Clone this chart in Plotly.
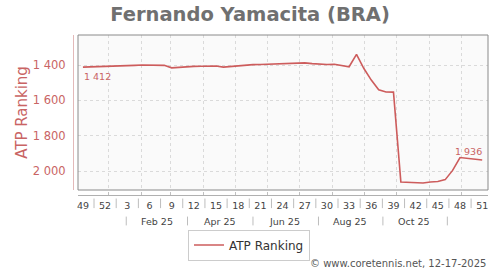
import plotly.graph_objects as go
import pandas as pd

# ---------------- data ----------------
title_text = "Fernando Yamacita (BRA)"
series_name = "ATP Ranking"
week_dates = pd.date_range("2024-12-08", periods=55, freq="7D")
rankings = [
    1412, 1411, 1411, 1410, 1409, 1406, 1404, 1402, 1400, 1400,
    1401, 1402, 1416, 1412, 1410, 1408, 1407, 1406, 1406, 1412,
    1408, 1403, 1399, 1398, 1397, 1396, 1395, 1394, 1393, 1392,
    1388, 1392, 1395, 1397, 1396, 1402, 1410, 1340, 1420, 1485,
    1540, 1552, 1553, 2060, 2062, 2064, 2066, 2060, 2058, 2047,
    1995, 1922, 1926, 1931, 1936,
]
week_tick_labels = ["49", "52", "3", "6", "9", "12", "15", "18", "21", "24",
                    "27", "30", "33", "36", "39", "42", "45", "48", "51"]
month_grid = pd.date_range("2025-01-01", "2025-12-01", freq="MS")
month_labels = ["Feb 25", "Apr 25", "Jun 25", "Aug 25", "Oct 25"]
month_label_dates = pd.to_datetime(["2025-02-16", "2025-04-17", "2025-06-17",
                                    "2025-08-18", "2025-10-17"])
month_sep_dates = pd.to_datetime(["2025-01-18", "2025-03-17", "2025-05-18",
                                  "2025-07-19", "2025-09-18", "2025-11-18"])
y_ticks = [1400, 1600, 1800, 2000]
footer = "© www.coretennis.net, 12-17-2025"

# ---------------- style ----------------
RED = "#cd5c5c"
RED_TXT = "#c96464"
FONT = "DejaVu Sans"
GRID = "#dadada"
PLOT_BG = "#fafafa"

week_tick_dates = week_dates[::3]
week_seps = [week_tick_dates[k] + (week_tick_dates[k + 1] - week_tick_dates[k]) / 2
             for k in range(len(week_tick_dates) - 1)]


def fmt(v):
    return f"{v:,}".replace(",", " ")


fig = go.Figure()
fig.add_trace(go.Scatter(
    x=week_dates, y=rankings, mode="lines", name=series_name,
    line=dict(color=RED, width=1.6), hoverinfo="skip",
))

shapes = [dict(type="rect", xref="x domain", yref="y domain", x0=0, x1=1, y0=0, y1=1,
               line=dict(color="#8a8a8a", width=1), layer="above")]
for d in week_seps:
    shapes.append(dict(type="line", xref="x", yref="paper", x0=d, x1=d,
                       y0=-0.022, y1=-0.082, line=dict(color="#bdbdbd", width=1)))
for d in month_sep_dates:
    shapes.append(dict(type="line", xref="x", yref="paper", x0=d, x1=d,
                       y0=-0.135, y1=-0.19, line=dict(color="#bdbdbd", width=1)))

halo = ("-1px -1px 0 %s, 1px -1px 0 %s, -1px 1px 0 %s, 1px 1px 0 %s, 0 2px 0 %s, 0 -2px 0 %s"
        % ((PLOT_BG,) * 6))
annotations = [
    dict(x=week_dates[0], y=rankings[0], xref="x", yref="y", text=fmt(rankings[0]),
         showarrow=False, xanchor="left", yanchor="top", yshift=-2, xshift=-1,
         font=dict(family=FONT, size=9.5, color=RED_TXT)),
    dict(x=week_dates[-1], y=rankings[-1], xref="x", yref="y", text=fmt(rankings[-1]),
         showarrow=False, xanchor="right", yanchor="bottom", yshift=1, xshift=2,
         font=dict(family=FONT, size=9.5, color=RED_TXT, shadow=halo)),
    dict(x=1.0, y=-0.425, xref="paper", yref="paper", text=footer, showarrow=False,
         xanchor="right", yanchor="middle", font=dict(family=FONT, size=10, color="#555")),
]
for lab, d in zip(month_labels, month_label_dates):
    annotations.append(dict(x=d, y=-0.163, xref="x", yref="paper", text=lab,
                            showarrow=False, xanchor="center", yanchor="middle",
                            font=dict(family=FONT, size=9.5, color="#444")))

fig.update_layout(
    width=500, height=270,
    margin=dict(l=73, r=12, t=35, b=75),
    paper_bgcolor="white", plot_bgcolor=PLOT_BG,
    separators=". ",
    font=dict(family=FONT, color="#444"),
    title=dict(text=title_text, x=0.5, xref="container", xanchor="center",
               y=1 - 14 / 270, yref="container", yanchor="middle",
               font=dict(family=FONT, size=19.5, color="#707070", weight="bold")),
    xaxis=dict(
        domain=[5 / 415, 1], anchor="free", position=0,
        range=[pd.Timestamp("2024-12-03 08:00"), pd.Timestamp("2025-12-26 12:00")],
        tickmode="array", tickvals=week_tick_dates, ticktext=week_tick_labels,
        ticks="", showgrid=False, zeroline=False,
        showline=True, linecolor="#b0b0b0", linewidth=1,
        tickfont=dict(family=FONT, size=9.5, color="#444"),
        ticklabelstandoff=2,
        minor=dict(tickmode="array", tickvals=month_grid, showgrid=True,
                   gridcolor=GRID, griddash="3px,3px", gridwidth=1,
                   ticks="inside", ticklen=3, tickcolor="#c0c0c0"),
    ),
    yaxis=dict(
        domain=[5 / 160, 1], anchor="free", position=0,
        range=[2105.5, 1230.7],
        tickmode="array", tickvals=y_ticks, tickformat=",d",
        ticks="", showgrid=True, gridcolor=GRID, griddash="3px,3px", zeroline=False,
        showline=True, linecolor="#e3b9b9", linewidth=1,
        tickfont=dict(family=FONT, size=11.5, color=RED_TXT),
        ticklabelstandoff=5,
        title=dict(text=series_name, standoff=0,
                   font=dict(family=FONT, size=15, color=RED_TXT)),
    ),
    showlegend=True,
    legend=dict(orientation="h", xref="container", yref="container",
                x=0.498, y=1 - 245 / 270, xanchor="center", yanchor="middle",
                bgcolor="white", bordercolor="#cccccc", borderwidth=1,
                itemwidth=30, font=dict(family=FONT, size=12, color="#333")),
    shapes=shapes,
    annotations=annotations,
)

fig.write_html("out.html")
